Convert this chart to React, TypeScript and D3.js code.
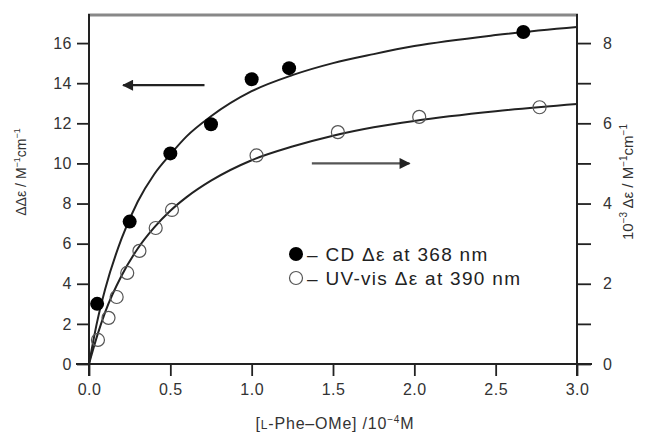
import React, { useRef, useEffect } from "react";
import * as d3 from "d3";

// CD data (left axis)
const cdX = [0.05, 0.25, 0.5, 0.75, 1.0, 1.23, 2.67];
const cdY = [3.0, 7.1, 10.5, 11.95, 14.2, 14.75, 16.55];
// UV-vis data (right axis, 10^-3 units)
const uvX = [0.055, 0.12, 0.17, 0.235, 0.31, 0.41, 0.51, 1.03, 1.53, 2.03, 2.77];
const uvY = [0.6, 1.15, 1.67, 2.27, 2.82, 3.39, 3.84, 5.2, 5.78, 6.16, 6.4];
// fitted curves
const cdFitX = [0, 0.05, 0.1, 0.2, 0.3, 0.4, 0.5, 0.6, 0.75, 1.0, 1.25, 1.5, 1.75, 2.0, 2.5, 3.0];
const cdFitY = [0, 2.1, 3.75, 6.25, 8.1, 9.45, 10.45, 11.35, 12.35, 13.6, 14.4, 15.0, 15.45, 15.85, 16.4, 16.8];
const uvFitX = [0, 0.05, 0.1, 0.2, 0.3, 0.4, 0.5, 0.6, 0.75, 1.0, 1.25, 1.5, 1.75, 2.0, 2.5, 3.0];
const uvFitY = [0, 0.7, 1.3, 2.2, 2.88, 3.4, 3.82, 4.16, 4.57, 5.08, 5.42, 5.69, 5.9, 6.06, 6.3, 6.48];

const xTicks = [0, 0.5, 1.0, 1.5, 2.0, 2.5, 3.0];
const leftTicks = [0, 2, 4, 6, 8, 10, 12, 14, 16];
const rightTicks = [0, 1, 2, 3, 4, 5, 6, 7, 8];

const W = 647, H = 436;
const FONT = "'Liberation Sans', Arial, sans-serif";

export default function App() {
  const svgRef = useRef<SVGSVGElement>(null);

  useEffect(() => {
    const svg = d3.select(svgRef.current);
    svg.selectAll("*").remove();

    const x = d3.scaleLinear().domain([0, 3]).range([89, 577]);
    const yL = d3.scaleLinear().domain([0, 17.4]).range([364, 15]);
    const yR = d3.scaleLinear().domain([0, 8.7]).range([364, 15]);

    // top frame
    svg.append("line")
      .attr("x1", 88).attr("x2", 578).attr("y1", 15).attr("y2", 15)
      .attr("stroke", "#888").attr("stroke-width", 3);

    // bottom axis
    const gx = svg.append("g").attr("transform", `translate(0,${yL(0)})`)
      .call(d3.axisBottom(x).tickValues(xTicks).tickFormat(d3.format(".1f")).tickSize(12).tickPadding(8).tickSizeOuter(0));
    gx.select(".domain").remove();
    svg.append("line").attr("x1", 76).attr("x2", 592).attr("y1", yL(0)).attr("y2", yL(0))
      .attr("stroke", "#222").attr("stroke-width", 2);

    // left axis
    const gl = svg.append("g").attr("transform", `translate(${x(0)},0)`)
      .call(d3.axisLeft(yL).tickValues(leftTicks).tickSize(12).tickPadding(5).tickSizeOuter(0));
    gl.select(".domain").remove();
    svg.append("line").attr("x1", x(0)).attr("x2", x(0)).attr("y1", 14).attr("y2", 376)
      .attr("stroke", "#222").attr("stroke-width", 2);

    // right axis
    const gr = svg.append("g").attr("transform", `translate(${x(3)},0)`)
      .call(d3.axisRight(yR).tickValues(rightTicks)
        .tickFormat((d: any) => (d % 2 === 0 ? String(d) : "")).tickSize(14).tickPadding(12).tickSizeOuter(0));
    gr.select(".domain").remove();
    svg.append("line").attr("x1", x(3)).attr("x2", x(3)).attr("y1", 14).attr("y2", 376)
      .attr("stroke", "#222").attr("stroke-width", 2);

    svg.selectAll(".tick line").attr("stroke", "#222").attr("stroke-width", 1.8);
    svg.selectAll(".tick text").attr("font-family", FONT).attr("font-size", 16)
      .attr("letter-spacing", 0.5).attr("fill", "#333");

    // curves
    const cdLine = d3.line<number>().x((d, i) => x(cdFitX[i])).y(d => yL(d)).curve(d3.curveMonotoneX);
    const uvLine = d3.line<number>().x((d, i) => x(uvFitX[i])).y(d => yR(d)).curve(d3.curveMonotoneX);
    svg.append("path").attr("d", cdLine(cdFitY)).attr("fill", "none").attr("stroke", "#222").attr("stroke-width", 2);
    svg.append("path").attr("d", uvLine(uvFitY)).attr("fill", "none").attr("stroke", "#222").attr("stroke-width", 2);

    // points
    svg.selectAll(".cd").data(cdY).join("circle").attr("class", "cd")
      .attr("cx", (d, i) => x(cdX[i])).attr("cy", d => yL(d)).attr("r", 7).attr("fill", "#000");
    svg.selectAll(".uv").data(uvY).join("circle").attr("class", "uv")
      .attr("cx", (d, i) => x(uvX[i])).attr("cy", d => yR(d)).attr("r", 6.5)
      .attr("fill", "none").attr("stroke", "#555").attr("stroke-width", 1.2);

    // arrows
    const defs = svg.append("defs");
    defs.append("marker").attr("id", "ah").attr("viewBox", "0 0 10 10").attr("refX", 9).attr("refY", 5)
      .attr("markerWidth", 6.5).attr("markerHeight", 5).attr("markerUnits", "strokeWidth").attr("orient", "auto")
      .append("path").attr("d", "M0,0 L10,5 L0,10 Z").attr("fill", "#222");
    svg.append("line").attr("x1", x(0.71)).attr("x2", x(0.21)).attr("y1", yL(13.9)).attr("y2", yL(13.9))
      .attr("stroke", "#222").attr("stroke-width", 2.2).attr("marker-end", "url(#ah)");
    svg.append("line").attr("x1", x(1.37)).attr("x2", x(1.97)).attr("y1", yR(5.0)).attr("y2", yR(5.0))
      .attr("stroke", "#555").attr("stroke-width", 2.2).attr("marker-end", "url(#ah)");

    // legend
    const leg = svg.append("g").attr("font-family", FONT).attr("font-size", 19)
      .attr("letter-spacing", 1.3).attr("fill", "#222");
    leg.append("circle").attr("cx", 296).attr("cy", 254).attr("r", 7).attr("fill", "#000");
    leg.append("text").attr("x", 307).attr("y", 261).text("– CD Δε at 368 nm");
    leg.append("circle").attr("cx", 296).attr("cy", 278).attr("r", 6.5).attr("fill", "none").attr("stroke", "#555").attr("stroke-width", 1.2);
    leg.append("text").attr("x", 307).attr("y", 285).text("– UV-vis Δε at 390 nm");

    // axis titles
    const xt = svg.append("text").attr("x", 335).attr("y", 429).attr("text-anchor", "middle")
      .attr("font-family", FONT).attr("font-size", 16).attr("letter-spacing", 0.8).attr("fill", "#333");
    xt.append("tspan").text("[");
    xt.append("tspan").attr("font-size", 12).text("L");
    xt.append("tspan").text("-Phe–OMe] /10");
    xt.append("tspan").attr("font-size", 10).attr("dy", -6).text("−4");
    xt.append("tspan").attr("dy", 6).text("M");

    const yt = svg.append("text").attr("transform", `translate(26,172) rotate(-90)`).attr("text-anchor", "middle")
      .attr("font-family", FONT).attr("font-size", 14).attr("fill", "#333");
    yt.append("tspan").text("ΔΔε / M");
    yt.append("tspan").attr("font-size", 9).attr("dy", -6).text("−1");
    yt.append("tspan").attr("dy", 6).text("cm");
    yt.append("tspan").attr("font-size", 9).attr("dy", -6).text("−1");

    const rt = svg.append("text").attr("transform", `translate(633,182) rotate(-90)`).attr("text-anchor", "middle")
      .attr("font-family", FONT).attr("font-size", 15).attr("fill", "#333");
    rt.append("tspan").text("10");
    rt.append("tspan").attr("font-size", 10).attr("dy", -6).text("−3");
    rt.append("tspan").attr("dy", 6).text(" Δε / M");
    rt.append("tspan").attr("font-size", 10).attr("dy", -6).text("−1");
    rt.append("tspan").attr("dy", 6).text("cm");
    rt.append("tspan").attr("font-size", 10).attr("dy", -6).text("−1");
  }, []);

  return (
    <svg ref={svgRef} width={W} height={H}
      style={{ position: "absolute", left: 0, top: 0, background: "#fff" }} />
  );
}
